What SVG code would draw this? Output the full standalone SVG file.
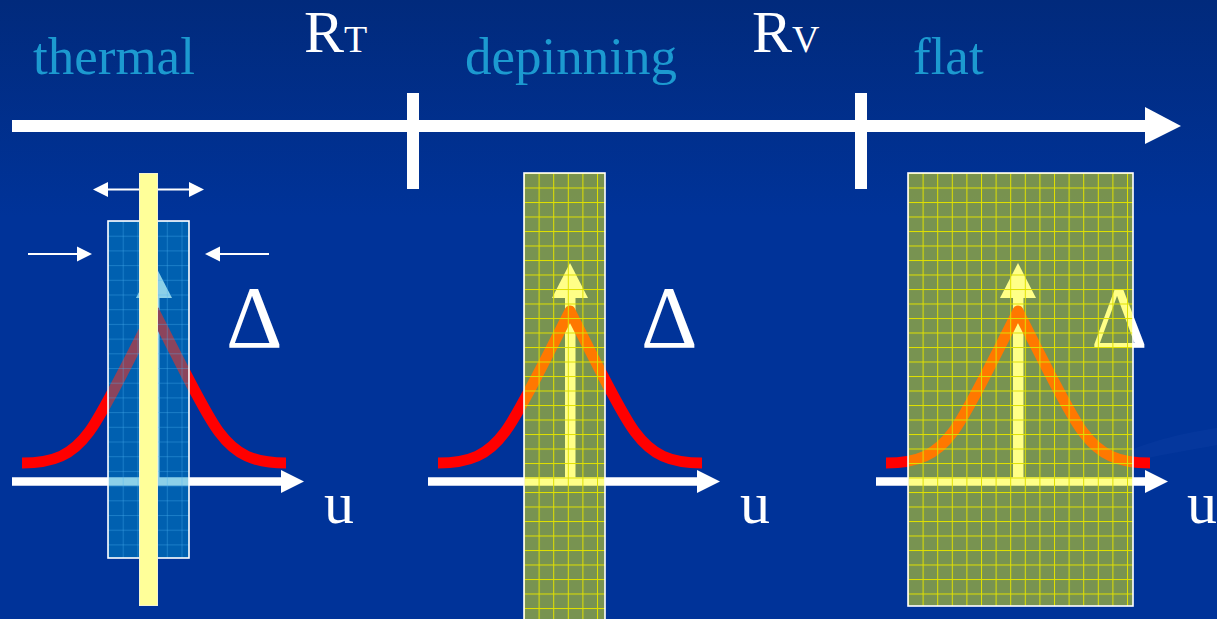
<svg xmlns="http://www.w3.org/2000/svg" width="1217" height="619" viewBox="0 0 1217 619">
<defs>
<linearGradient id="bg" x1="0" y1="0" x2="0" y2="1">
<stop offset="0" stop-color="#012a7c"/>
<stop offset="0.35" stop-color="#003399"/>
<stop offset="1" stop-color="#003399"/>
</linearGradient>
<pattern id="gridY2" patternUnits="userSpaceOnUse" x="524" y="173" width="14.6" height="14.5">
<rect width="1" height="14.5" fill="#e0e000"/>
<rect width="14.6" height="1" fill="#e0e000"/>
</pattern>
<pattern id="gridY3" patternUnits="userSpaceOnUse" x="908" y="173" width="14.6" height="14.5">
<rect width="1" height="14.5" fill="#e0e000"/>
<rect width="14.6" height="1" fill="#e0e000"/>
</pattern>
<pattern id="gridB" patternUnits="userSpaceOnUse" x="108" y="221" width="14.7" height="14.7">
<rect width="1" height="14.7" fill="#4ab0f0" fill-opacity="0.35"/>
<rect width="14.7" height="1" fill="#4ab0f0" fill-opacity="0.35"/>
</pattern>
<path id="curve" d="M438,463 C470,463 488,455 505,432 C520,412 545,360 570,311 C595,360 620,412 635,432 C652,455 670,463 702,463"/>
</defs>
<style>
.lbl{font-family:"Liberation Serif","Times New Roman",serif;fill:#1c9ad0;font-size:53px}
.wt{font-family:"Liberation Serif","Times New Roman",serif;fill:#ffffff}
.delta{font-family:"Liberation Serif","Times New Roman",serif;fill:#ffffff;font-size:88px}
.curve{fill:none;stroke:#ff0000;stroke-width:11;stroke-linejoin:round}
.axis{fill:none;stroke:#ffffff;stroke-width:8.5}
.thin{fill:none;stroke:#ffffff;stroke-width:2}
.wfill{fill:#ffffff}
.yfill{fill:#ffff00;fill-opacity:0.47}
.border{fill:none;stroke:#ffffff;stroke-width:1.6}
</style>
<rect width="1217" height="619" fill="url(#bg)"/>
<path d="M1120,455 C1150,440 1190,432 1217,428 L1217,445 C1190,450 1160,455 1130,462 Z" fill="#1a4cb0" fill-opacity="0.18"/>

<g id="connectors">
<path d="M12,126 H1148" fill="none" stroke="#fff" stroke-width="12"/>
<polygon class="wfill" points="1145,107 1181,126 1145,144"/>
<rect class="wfill" x="407" y="93" width="12" height="96"/>
<rect class="wfill" x="855" y="93" width="12" height="96"/>
</g>

<g id="labels">
<text class="lbl" x="33" y="74">thermal</text>
<text class="lbl" x="465" y="74">depinning</text>
<text class="lbl" x="913" y="74">flat</text>
<text class="wt" x="304" y="52" font-size="60">R<tspan font-size="38">T</tspan></text>
<text class="wt" x="752" y="52" font-size="60">R<tspan font-size="38">V</tspan></text>
</g>

<g id="panel-thermal">
<path class="axis" d="M12,481.5 H285"/>
<polygon class="wfill" points="281,470 304,481.5 281,493"/>
<rect class="wfill" x="149" y="296" width="10.5" height="185"/>
<polygon class="wfill" points="154,263 136,298 172,298"/>
<use href="#curve" class="curve" transform="translate(-416,0)"/>
<text class="delta" x="226" y="347">Δ</text>
<text class="wt" x="324" y="523" font-size="60">u</text>
<rect x="108" y="221" width="81" height="337" fill="#0097cd" fill-opacity="0.45"/>
<rect x="108" y="221" width="81" height="337" fill="url(#gridB)"/>
<rect class="border" x="108" y="221" width="81" height="337"/>
<line class="thin" x1="105" y1="189.5" x2="192" y2="189.5"/>
<polygon class="wfill" points="93,189.5 108,182 108,197"/>
<polygon class="wfill" points="204,189.5 189,182 189,197"/>
<line class="thin" x1="28" y1="254" x2="80" y2="254"/>
<polygon class="wfill" points="92,254 77,246.5 77,261.5"/>
<line class="thin" x1="217" y1="254" x2="269" y2="254"/>
<polygon class="wfill" points="205,254 220,246.5 220,261.5"/>
<rect x="139.5" y="173.5" width="18" height="432" fill="#ffff99" stroke="#f4f4d0" stroke-width="1"/>
</g>

<g id="panel-depinning">
<path class="axis" d="M428,481.5 H700"/>
<polygon class="wfill" points="697,470 720,481.5 697,493"/>
<rect class="wfill" x="565" y="296" width="10.5" height="185"/>
<polygon class="wfill" points="570,263 552,298 588,298"/>
<use href="#curve" class="curve"/>
<text class="delta" x="641" y="347">Δ</text>
<text class="wt" x="740" y="523" font-size="60">u</text>
<rect class="yfill" x="524" y="173" width="81" height="450"/>
<rect x="524" y="173" width="81" height="450" fill="url(#gridY2)"/>
<rect class="border" x="524" y="173" width="81" height="450"/>
</g>

<g id="panel-flat">
<path class="axis" d="M876,481.5 H1148"/>
<polygon class="wfill" points="1145,470 1168,481.5 1145,493"/>
<rect class="wfill" x="1013" y="296" width="10.5" height="185"/>
<polygon class="wfill" points="1018,263 1000,298 1036,298"/>
<use href="#curve" class="curve" transform="translate(448,0)"/>
<text class="delta" x="1091" y="347">Δ</text>
<text class="wt" x="1187" y="523" font-size="60">u</text>
<rect class="yfill" x="908" y="173" width="225" height="433"/>
<rect x="908" y="173" width="225" height="433" fill="url(#gridY3)"/>
<rect class="border" x="908" y="173" width="225" height="433"/>
</g>
</svg>
